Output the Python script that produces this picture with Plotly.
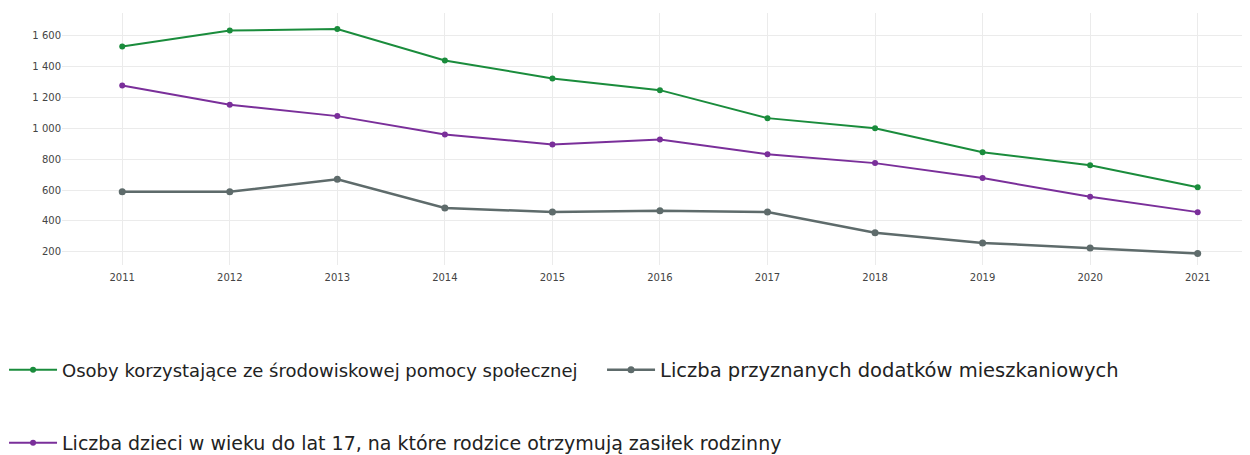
import plotly.graph_objects as go

years = [2011, 2012, 2013, 2014, 2015, 2016, 2017, 2018, 2019, 2020, 2021]
osoby = [1529, 1631, 1642, 1438, 1322, 1246, 1065, 1000, 845, 760, 618]
dzieci = [1276, 1152, 1078, 959, 895, 927, 832, 774, 677, 556, 457]
dodatki = [589, 589, 669, 484, 458, 466, 458, 323, 258, 225, 190]

name_osoby = "Osoby korzystające ze środowiskowej pomocy społecznej"
name_dzieci = "Liczba dzieci w wieku do lat 17, na które rodzice otrzymują zasiłek rodzinny"
name_dodatki = "Liczba przyznanych dodatków mieszkaniowych"

fig = go.Figure()
fig.add_trace(go.Scatter(x=years, y=osoby, name=name_osoby, mode="lines+markers",
                         line=dict(color="#1a8c3c", width=2), marker=dict(size=6),
                         legend="legend", showlegend=True))
fig.add_trace(go.Scatter(x=years, y=dodatki, name=name_dodatki, mode="lines+markers",
                         line=dict(color="#5e6b6b", width=2.5), marker=dict(size=7),
                         legend="legend3", showlegend=True))
fig.add_trace(go.Scatter(x=years, y=dzieci, name=name_dzieci, mode="lines+markers",
                         line=dict(color="#7a2f9a", width=2), marker=dict(size=6),
                         legend="legend2", showlegend=True))

def lfont(size):
    return dict(family="DejaVu Sans, Verdana, sans-serif", size=size, color="#222222")

fig.update_layout(
    width=1242, height=447,
    showlegend=True,
    margin=dict(l=54, r=5, t=5, b=190, autoexpand=False),
    paper_bgcolor="white", plot_bgcolor="white",
    separators=", ",
    font=dict(family="DejaVu Sans, Verdana, sans-serif", color="#555555"),
    xaxis=dict(range=[2010.44, 2021.44], tickvals=years, showgrid=True,
               gridcolor="#ebebeb", zeroline=False, tickfont=dict(size=10, color="#444444"),
               showline=False, ticks="outside", ticklen=3, tickcolor="rgba(0,0,0,0)"),
    yaxis=dict(range=[115, 1745], tickvals=[200, 400, 600, 800, 1000, 1200, 1400, 1600],
               tickformat=",d", separatethousands=True, showgrid=True,
               gridcolor="#ebebeb", zeroline=False, tickfont=dict(size=10, color="#444444")),
    legend=dict(orientation="h", x=-0.049, xanchor="left", y=-0.4167, yanchor="middle",
                font=lfont(18), itemwidth=48, bgcolor="rgba(0,0,0,0)", visible=True),
    legend3=dict(orientation="h", x=0.4565, xanchor="left", y=-0.4167, yanchor="middle",
                 font=lfont(19.5), itemwidth=48, bgcolor="rgba(0,0,0,0)"),
    legend2=dict(orientation="h", x=-0.049, xanchor="left", y=-0.706, yanchor="middle",
                 font=lfont(19), itemwidth=48, bgcolor="rgba(0,0,0,0)"),
)

fig.write_html("out.html")
